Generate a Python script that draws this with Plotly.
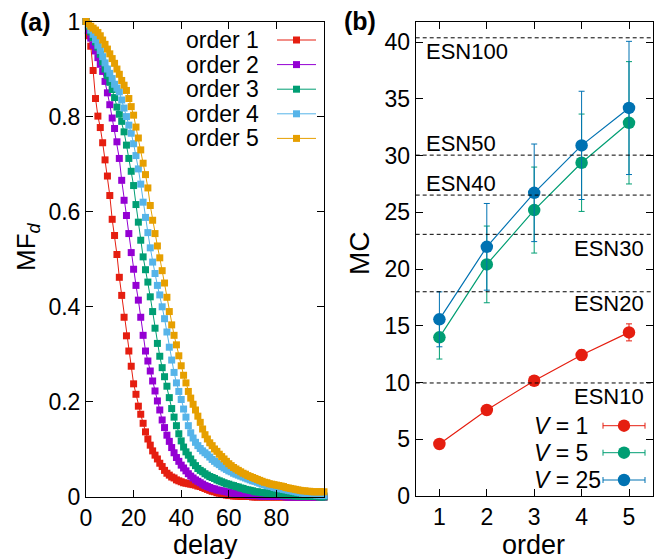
import plotly.graph_objects as go

# ---------------- data: panel (a) ----------------
delay = list(range(0, 101))

mf_order1 = [1.000, 0.970, 0.948, 0.897, 0.838, 0.801, 0.777, 0.745, 0.709, 0.675,
             0.634, 0.584, 0.550, 0.510, 0.462, 0.424, 0.378, 0.339, 0.307, 0.275,
             0.238, 0.216, 0.191, 0.174, 0.155, 0.137, 0.122, 0.109, 0.097, 0.088,
             0.080, 0.071, 0.064, 0.056, 0.050, 0.046, 0.042, 0.040, 0.036, 0.034,
             0.032, 0.030, 0.029, 0.028, 0.027, 0.026, 0.025, 0.023, 0.022, 0.020,
             0.018, 0.016, 0.014, 0.012, 0.011, 0.009, 0.008, 0.006, 0.005, 0.004,
             0.003, 0.003, 0.002, 0.002, 0.002, 0.001, 0.001, 0.001, 0.001, 0.001,
             0.000, 0.000, 0.000, 0.000, 0.000, 0.000, 0.000, 0.000, 0.000, 0.000,
             0.000, 0.000, 0.000, 0.000, 0.000, 0.000, 0.000, 0.000, 0.000, 0.000,
             0.000, 0.000, 0.000, 0.000, 0.000, 0.000, 0.000, 0.000, 0.000, 0.000, 0.000]

mf_order2 = [1.000, 0.981, 0.965, 0.950, 0.938, 0.924, 0.910, 0.895, 0.874, 0.850,
             0.825, 0.797, 0.775, 0.747, 0.712, 0.666, 0.624, 0.592, 0.554, 0.514,
             0.479, 0.445, 0.414, 0.378, 0.340, 0.307, 0.286, 0.265, 0.244, 0.223,
             0.202, 0.183, 0.162, 0.146, 0.130, 0.117, 0.104, 0.093, 0.083, 0.075,
             0.067, 0.061, 0.055, 0.049, 0.044, 0.040, 0.036, 0.033, 0.030, 0.027,
             0.024, 0.022, 0.020, 0.018, 0.017, 0.015, 0.014, 0.013, 0.012, 0.011,
             0.010, 0.009, 0.008, 0.007, 0.006, 0.006, 0.005, 0.005, 0.004, 0.004,
             0.003, 0.003, 0.003, 0.002, 0.002, 0.002, 0.002, 0.001, 0.001, 0.001,
             0.001, 0.001, 0.001, 0.001, 0.000, 0.000, 0.000, 0.000, 0.000, 0.000,
             0.000, 0.000, 0.000, 0.000, 0.000, 0.000, 0.000, 0.000, 0.000, 0.000, 0.000]

mf_order3 = [1.000, 0.990, 0.978, 0.966, 0.957, 0.946, 0.931, 0.915, 0.900, 0.886,
             0.872, 0.857, 0.840, 0.820, 0.805, 0.790, 0.768, 0.740, 0.712, 0.685,
             0.655, 0.615, 0.578, 0.540, 0.505, 0.478, 0.452, 0.421, 0.390, 0.355,
             0.323, 0.296, 0.272, 0.253, 0.233, 0.209, 0.186, 0.168, 0.150, 0.133,
             0.118, 0.105, 0.095, 0.088, 0.080, 0.072, 0.066, 0.060, 0.056, 0.053,
             0.049, 0.046, 0.043, 0.041, 0.039, 0.036, 0.034, 0.032, 0.030, 0.028,
             0.027, 0.025, 0.024, 0.022, 0.021, 0.019, 0.018, 0.016, 0.015, 0.014,
             0.013, 0.011, 0.011, 0.010, 0.009, 0.009, 0.008, 0.008, 0.007, 0.006,
             0.006, 0.005, 0.005, 0.004, 0.004, 0.003, 0.003, 0.003, 0.002, 0.002,
             0.002, 0.002, 0.001, 0.001, 0.001, 0.001, 0.001, 0.001, 0.000, 0.000, 0.000]

mf_order4 = [1.000, 0.993, 0.982, 0.973, 0.962, 0.950, 0.939, 0.926, 0.913, 0.900,
             0.891, 0.880, 0.868, 0.860, 0.852, 0.835, 0.818, 0.800, 0.782, 0.765,
             0.743, 0.718, 0.690, 0.658, 0.620, 0.588, 0.556, 0.524, 0.494, 0.470,
             0.445, 0.425, 0.400, 0.375, 0.347, 0.315, 0.288, 0.262, 0.240, 0.222,
             0.205, 0.185, 0.168, 0.150, 0.135, 0.124, 0.115, 0.108, 0.102, 0.097,
             0.093, 0.089, 0.084, 0.079, 0.075, 0.071, 0.068, 0.064, 0.061, 0.058,
             0.055, 0.053, 0.050, 0.048, 0.046, 0.044, 0.042, 0.040, 0.038, 0.036,
             0.034, 0.033, 0.031, 0.029, 0.027, 0.026, 0.024, 0.023, 0.022, 0.020,
             0.019, 0.018, 0.017, 0.016, 0.015, 0.014, 0.013, 0.012, 0.011, 0.010,
             0.009, 0.008, 0.007, 0.007, 0.006, 0.005, 0.005, 0.004, 0.004, 0.003, 0.003]

mf_order5 = [1.000, 0.995, 0.990, 0.986, 0.982, 0.977, 0.970, 0.961, 0.952, 0.942,
             0.932, 0.922, 0.912, 0.900, 0.889, 0.876, 0.866, 0.855, 0.838, 0.821,
             0.803, 0.778, 0.755, 0.730, 0.702, 0.678, 0.650, 0.613, 0.582, 0.554,
             0.528, 0.503, 0.476, 0.450, 0.420, 0.390, 0.362, 0.340, 0.320, 0.297,
             0.276, 0.256, 0.240, 0.222, 0.208, 0.195, 0.183, 0.170, 0.157, 0.143,
             0.131, 0.122, 0.114, 0.108, 0.101, 0.096, 0.090, 0.085, 0.080, 0.075,
             0.070, 0.066, 0.062, 0.059, 0.056, 0.053, 0.050, 0.048, 0.045, 0.043,
             0.041, 0.039, 0.037, 0.035, 0.033, 0.031, 0.030, 0.028, 0.027, 0.026,
             0.025, 0.024, 0.023, 0.022, 0.020, 0.019, 0.018, 0.017, 0.016, 0.015,
             0.014, 0.013, 0.013, 0.012, 0.012, 0.011, 0.011, 0.011, 0.011, 0.011, 0.011]

order_names = ["order 1", "order 2", "order 3", "order 4", "order 5"]
order_colors = ["#e51e10", "#9400d3", "#009e73", "#56b4e9", "#e69f00"]

# ---------------- data: panel (b) ----------------
orders = [1, 2, 3, 4, 5]
mc_v1 = [4.58, 7.58, 10.16, 12.42, 14.42]
mc_v1_err = [0.3, 0.35, 0.4, 0.45, 0.75]
mc_v5 = [13.98, 20.41, 25.2, 29.37, 32.89]
mc_v5_err = [1.91, 3.38, 3.79, 4.29, 5.39]
mc_v25 = [15.57, 21.96, 26.72, 30.9, 34.2]
mc_v25_err = [2.42, 3.82, 4.3, 4.77, 5.87]
v_names = ["<i>V</i> = 1", "<i>V</i> = 5", "<i>V</i> = 25"]
v_colors = ["#e51e10", "#009e73", "#0072b2"]

esn_names = ["ESN10", "ESN20", "ESN30", "ESN40", "ESN50", "ESN100"]
esn_mc = [9.96, 18.0, 23.06, 26.52, 30.04, 40.38]
esn_label_side = ["right", "right", "right", "left", "left", "left"]
esn_label_shift = [-14, -12, -14, 12, 12, -14]

# ---------------- layout helpers ----------------
# the page body has an 8px margin; the figure fills the rest of the window
OFF = 8
W, H = 662 - OFF, 559 - OFF
FONT = "Liberation Sans, Arial, sans-serif"


def px(x):
    return (x - OFF) / W


def py(y):
    return 1 - (y - OFF) / H


fig = go.Figure()

series_a = [mf_order1, mf_order2, mf_order3, mf_order4, mf_order5]
for name, col, vals in zip(order_names, order_colors, series_a):
    fig.add_trace(go.Scatter(
        x=delay, y=vals, mode="lines+markers", name=name,
        line=dict(color=col, width=1),
        marker=dict(symbol="square", size=7, color=col),
        cliponaxis=False, showlegend=False,
        xaxis="x", yaxis="y"))

series_b = [(mc_v1, mc_v1_err), (mc_v5, mc_v5_err), (mc_v25, mc_v25_err)]
for name, col, (vals, errs) in zip(v_names, v_colors, series_b):
    fig.add_trace(go.Scatter(
        x=orders, y=vals, mode="lines+markers", name=name,
        line=dict(color=col, width=1.2),
        marker=dict(symbol="circle", size=12.5, color=col),
        error_y=dict(type="data", array=errs, visible=True, color=col,
                     thickness=1, width=3),
        showlegend=False, xaxis="x2", yaxis="y2"))

axis_common = dict(
    showline=True, linecolor="black", linewidth=1, mirror="allticks",
    ticks="inside", ticklen=7, tickwidth=1, tickcolor="black",
    showgrid=False, zeroline=False, automargin=False,
    tickfont=dict(family=FONT, size=23, color="black"),
)

shapes = []
annotations = []

# dashed ESN lines + labels
for nm, val, side, sh in zip(esn_names, esn_mc, esn_label_side, esn_label_shift):
    shapes.append(dict(type="line", xref="x2 domain", yref="y2", x0=0, x1=1,
                       y0=val, y1=val, line=dict(color="black", width=1, dash="4px,3px")))
    if side == "left":
        annotations.append(dict(xref="paper", yref="y2", x=px(423.5), y=val,
                                xanchor="left", yanchor="middle", yshift=sh,
                                text=nm, showarrow=False,
                                font=dict(family=FONT, size=22, color="black")))
    else:
        annotations.append(dict(xref="paper", yref="y2", x=px(646), y=val,
                                xanchor="right", yanchor="middle", yshift=sh,
                                text=nm, showarrow=False,
                                font=dict(family=FONT, size=22, color="black")))

# legend (a): text left, sample right
rows_a = [40, 64.6, 89.2, 113.8, 138.4]
for nm, col, yy in zip(order_names, order_colors, rows_a):
    annotations.append(dict(xref="paper", yref="paper", x=px(261), y=py(yy),
                            xanchor="right", yanchor="middle", text=nm, showarrow=False,
                            font=dict(family=FONT, size=23, color="black")))
    shapes.append(dict(type="line", xref="paper", yref="paper",
                       x0=px(277), x1=px(316), y0=py(yy), y1=py(yy),
                       line=dict(color=col, width=1)))
    shapes.append(dict(type="rect", xref="paper", yref="paper",
                       x0=px(296.5 - 3.5), x1=px(296.5 + 3.5),
                       y0=py(yy + 3.5), y1=py(yy - 3.5),
                       line=dict(width=0), fillcolor=col))

# legend (b)
rows_b = [425.7, 452.7, 480]
for nm, col, yy in zip(v_names, v_colors, rows_b):
    annotations.append(dict(xref="paper", yref="paper", x=px(532), y=py(yy),
                            xanchor="left", yanchor="middle", text=nm, showarrow=False,
                            font=dict(family=FONT, size=23, color="black")))
    shapes.append(dict(type="line", xref="paper", yref="paper",
                       x0=px(603), x1=px(645), y0=py(yy), y1=py(yy),
                       line=dict(color=col, width=1)))
    for xe in (603, 645):
        shapes.append(dict(type="line", xref="paper", yref="paper",
                           x0=px(xe), x1=px(xe), y0=py(yy - 3), y1=py(yy + 3),
                           line=dict(color=col, width=1)))
    shapes.append(dict(type="circle", xref="paper", yref="paper",
                       x0=px(624 - 6.2), x1=px(624 + 6.2),
                       y0=py(yy + 6.2), y1=py(yy - 6.2),
                       line=dict(width=0), fillcolor=col))

# axis titles and panel labels
annotations += [
    dict(xref="paper", yref="paper", x=px(205), y=py(545), text="delay",
         showarrow=False, xanchor="center", yanchor="middle",
         font=dict(family=FONT, size=27, color="black")),
    dict(xref="paper", yref="paper", x=px(533), y=py(545), text="order",
         showarrow=False, xanchor="center", yanchor="middle",
         font=dict(family=FONT, size=27, color="black")),
    dict(xref="paper", yref="paper", x=px(28), y=py(247), text="MF<sub><i>d</i></sub>",
         showarrow=False, xanchor="center", yanchor="middle", textangle=-90,
         font=dict(family=FONT, size=26, color="black")),
    dict(xref="paper", yref="paper", x=px(359), y=py(253), text="MC",
         showarrow=False, xanchor="center", yanchor="middle", textangle=-90,
         font=dict(family=FONT, size=28, color="black")),
    dict(xref="paper", yref="paper", x=px(35), y=py(22), text="<b>(a)</b>",
         showarrow=False, xanchor="center", yanchor="middle",
         font=dict(family=FONT, size=25, color="black")),
    dict(xref="paper", yref="paper", x=px(360), y=py(21), text="<b>(b)</b>",
         showarrow=False, xanchor="center", yanchor="middle",
         font=dict(family=FONT, size=25, color="black")),
]

fig.update_layout(
    template="none",
    width=W, height=H, autosize=False,
    margin=dict(l=0, r=0, t=0, b=0, pad=0, autoexpand=False),
    paper_bgcolor="white", plot_bgcolor="white",
    showlegend=False,
    xaxis=dict(domain=[px(86), px(324)], range=[0, 100],
               tickvals=[0, 20, 40, 60, 80], ticktext=["0", "20", "40", "60", "80"],
               anchor="y", **axis_common),
    yaxis=dict(domain=[py(497), py(21.5)], range=[0, 1],
               tickvals=[0, 0.2, 0.4, 0.6, 0.8, 1],
               ticktext=["0", "0.2", "0.4", "0.6", "0.8", "1"],
               anchor="x", **axis_common),
    xaxis2=dict(domain=[px(415.7), px(652.7)], range=[0.5, 5.5],
                tickvals=orders, ticktext=[str(o) for o in orders],
                anchor="y2", **axis_common),
    yaxis2=dict(domain=[py(496), py(21.7)], range=[0, 41.8],
                tickvals=[0, 5, 10, 15, 20, 25, 30, 35, 40],
                ticktext=["0", "5", "10", "15", "20", "25", "30", "35", "40"],
                anchor="x2", **axis_common),
    shapes=shapes, annotations=annotations,
)

fig.write_html("out.html")
